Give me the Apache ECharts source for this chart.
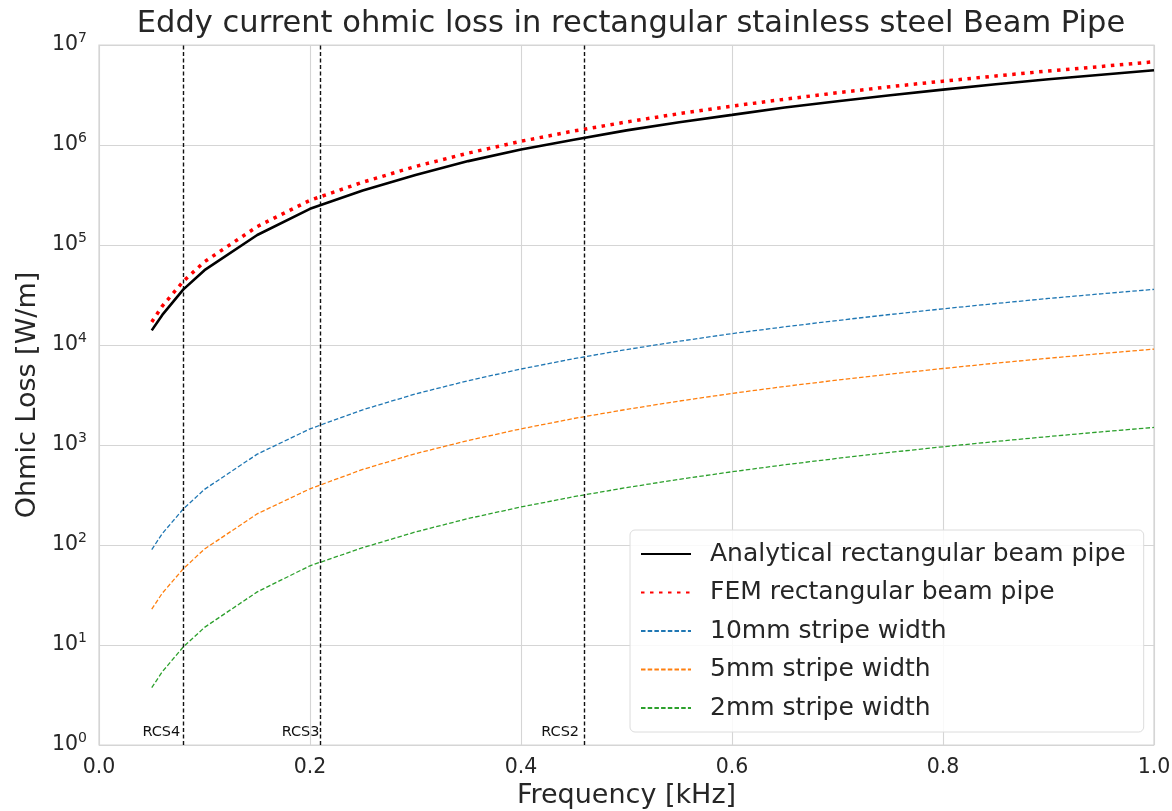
<!DOCTYPE html>
<html><head><meta charset="utf-8">
<script src="https://cdn.jsdelivr.net/npm/echarts@6/dist/echarts.min.js"></script>
<style>html,body{margin:0;padding:0;background:#fff}#c{width:1172px;height:811px}</style>
</head><body><div id="c"></div>
<script>
const freq = [0.05,0.06,0.08,0.1,0.15,0.2,0.25,0.3,0.35,0.4,0.45,0.5,0.55,0.6,0.65,0.7,0.75,0.8,0.85,0.9,0.95,1.0];
const analytical = [1.4e4,2.0e4,3.6e4,5.6e4,1.26e5,2.3e5,3.5e5,5.0e5,6.9e5,9.0e5,1.13e6,1.4e6,1.69e6,2.0e6,2.37e6,2.74e6,3.15e6,3.58e6,4.05e6,4.54e6,5.05e6,5.6e6];
const fem = [1.7e4,2.45e4,4.35e4,6.8e4,1.53e5,2.8e5,4.25e5,6.1e5,8.3e5,1.09e6,1.38e6,1.7e6,2.06e6,2.45e6,2.87e6,3.33e6,3.83e6,4.35e6,4.9e6,5.5e6,6.1e6,6.8e6];
const stripe10 = [90,130,230,360,810,1450,2250,3240,4400,5750,7300,9000,10900,13000,15200,17600,20200,23000,26000,29200,32500,36000];
const stripe5 = [22.8,33,58,91,205,365,570,820,1110,1450,1840,2270,2750,3280,3850,4460,5120,5820,6580,7370,8210,9100];
const stripe2 = [3.75,5.4,9.6,15,34,62,94,135,184,240,304,375,454,540,634,735,844,960,1084,1215,1354,1500];
const seriesNames = ['Analytical rectangular beam pipe','FEM rectangular beam pipe','10mm stripe width','5mm stripe width','2mm stripe width'];
const rcsNames = ['RCS4','RCS3','RCS2'];
const rcsFreq = [0.078,0.21,0.456];

const FONT = 'DejaVu Sans';
const TXT = '#262626';
const pair = ys => freq.map((f,i)=>[f,ys[i]]);

const chart = echarts.init(document.getElementById('c'), null, {renderer:'canvas'});
const option = {
  animation:false,
  backgroundColor:'#fff',
  title:{text:'Eddy current ohmic loss in rectangular stainless steel Beam Pipe',left:626,textAlign:'center',top:4,
    textStyle:{fontFamily:FONT,fontSize:30.5,fontWeight:'normal',color:TXT}},
  grid:{left:99,right:18,top:45,bottom:66,outerBoundsMode:'none',containLabel:false,show:true,borderColor:'#d5d5d5',borderWidth:1.2,backgroundColor:'transparent'},
  legend:{orient:'vertical',left:630,top:530,itemWidth:50,itemHeight:14,itemGap:10.5,
    padding:[10,18,10,10],backgroundColor:'rgba(255,255,255,0.85)',borderColor:'#dcdcdc',borderWidth:1,borderRadius:5,
    itemStyle:{opacity:0},
    textStyle:{fontFamily:FONT,fontSize:25,lineHeight:28,color:TXT,padding:[0,0,0,14]},
    data:seriesNames},
  xAxis:{type:'value',min:0,max:1,interval:0.2,name:'Frequency [kHz]',nameLocation:'middle',nameGap:37,
    nameTextStyle:{fontFamily:FONT,fontSize:27,color:TXT},
    axisLine:{show:false},axisTick:{show:false},
    axisLabel:{fontFamily:FONT,fontSize:20.5,color:TXT,margin:12,formatter:v=>v.toFixed(1)},
    splitLine:{show:true,lineStyle:{color:'#d5d5d5',width:1.1}}},
  yAxis:{type:'log',logBase:10,min:1,max:1e7,name:'Ohmic Loss [W/m]',nameLocation:'middle',nameGap:57,
    nameTextStyle:{fontFamily:FONT,fontSize:27,color:TXT},
    axisLine:{show:false},axisTick:{show:false},minorTick:{show:false},
    axisLabel:{fontFamily:FONT,color:TXT,margin:12,
      formatter:v=>{const e=Math.round(Math.log10(v));return '{b|10}{s|'+e+'}';},
      rich:{b:{fontFamily:FONT,fontSize:20.5,color:TXT},s:{fontFamily:FONT,fontSize:14,color:TXT,verticalAlign:'bottom',padding:[0,0,13,0]}}},
    splitLine:{show:true,lineStyle:{color:'#d5d5d5',width:1.1}}},
  series:[
    {name:seriesNames[0],type:'line',data:pair(analytical),showSymbol:false,symbol:'none',z:5,
      lineStyle:{color:'#000',width:2.6},itemStyle:{color:'#000'},
      markLine:{silent:true,symbol:'none',label:{show:false},
        lineStyle:{color:'#111',type:[4,2.5],width:1.4},
        data:rcsFreq.map(f=>({xAxis:f}))},
      markPoint:{silent:true,symbol:'rect',symbolSize:0,
        label:{show:true,position:'left',distance:0,offset:[-1,-13],fontFamily:FONT,fontSize:14.5,color:'#111'},
        data:rcsFreq.map((f,i)=>({coord:[f,1],value:rcsNames[i],label:{formatter:rcsNames[i]}}))}},
    {name:seriesNames[1],type:'line',data:pair(fem),showSymbol:false,symbol:'none',z:4,
      lineStyle:{color:'#ff0000',width:3.5,type:[3.5,5.5],cap:'butt'},itemStyle:{color:'#ff0000'}},
    {name:seriesNames[2],type:'line',data:pair(stripe10),showSymbol:false,symbol:'none',
      lineStyle:{color:'#1f77b4',width:1.3,type:[4.5,2.2]},itemStyle:{color:'#1f77b4'}},
    {name:seriesNames[3],type:'line',data:pair(stripe5),showSymbol:false,symbol:'none',
      lineStyle:{color:'#ff7f0e',width:1.3,type:[4.5,2.2]},itemStyle:{color:'#ff7f0e'}},
    {name:seriesNames[4],type:'line',data:pair(stripe2),showSymbol:false,symbol:'none',
      lineStyle:{color:'#2ca02c',width:1.3,type:[4.5,2.2]},itemStyle:{color:'#2ca02c'}}
  ]
};
chart.setOption(option);
</script></body></html>
